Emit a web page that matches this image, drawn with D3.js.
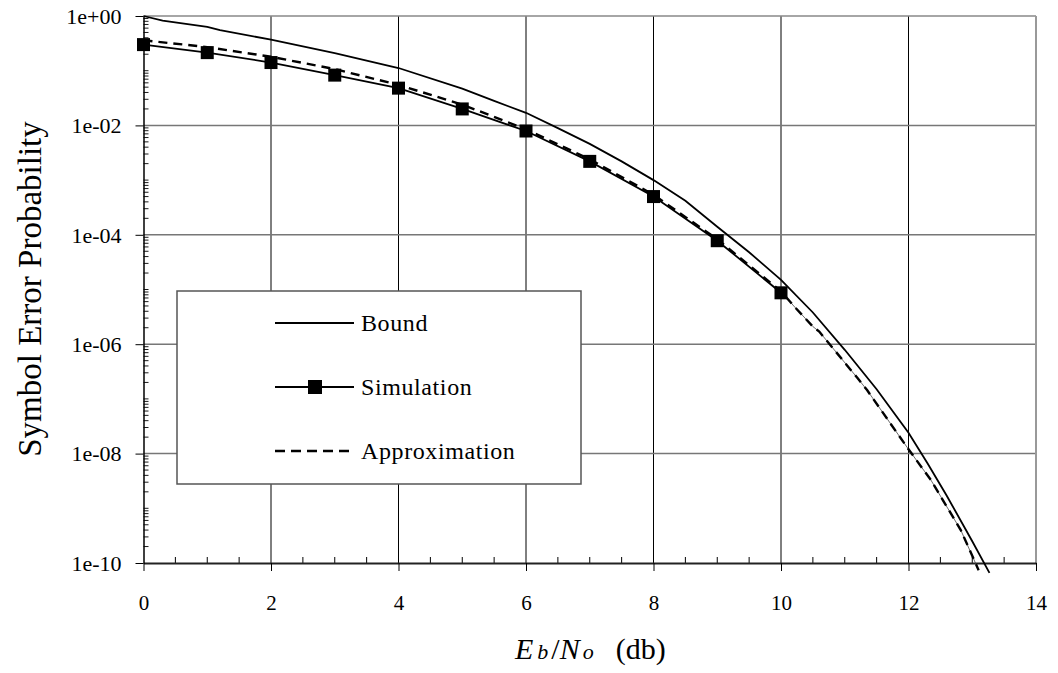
<!DOCTYPE html>
<html>
<head>
<meta charset="utf-8">
<script src="https://cdn.jsdelivr.net/npm/d3@7"></script>
<style>
  body { margin: 0; background: #fff; }
  text { font-family: "Liberation Serif", "Times New Roman", serif; fill: #000; }
</style>
</head>
<body>
<script>

  // Bound (solid line)
  var boundX = [0, 0.3, 1, 1.2, 2, 3, 4, 5, 5.5, 6, 6.5, 7, 7.5, 8, 8.5, 9, 9.5, 10, 10.5, 11, 11.5, 12, 12.3, 12.6, 13, 13.27];
  var boundY = [1.0, 0.82, 0.63, 0.55, 0.37, 0.21, 0.112, 0.047, 0.028, 0.017, 8.9e-3, 4.6e-3, 2.2e-3, 1.0e-3, 4.2e-4, 1.4e-4, 4.8e-5, 1.5e-5, 3.8e-6, 7.9e-7, 1.5e-7, 2.4e-8, 6.6e-9, 1.7e-9, 2.5e-10, 6.6e-11];

  // Simulation (squares)
  var simX = [0, 1, 2, 3, 4, 5, 6, 7, 8, 9, 10];
  var simY = [0.30, 0.214, 0.141, 0.083, 0.048, 0.020, 7.9e-3, 2.2e-3, 5.0e-4, 7.8e-5, 8.7e-6];

  // Approximation (dashed)
  var approxX = [0, 1, 2, 3, 4, 5, 6, 7, 8, 9, 10, 10.2, 10.5, 10.6, 11.2, 11.35, 12, 12.35, 12.82, 13.1];
  var approxY = [0.36, 0.27, 0.18, 0.107, 0.055, 0.024, 8.5e-3, 2.4e-3, 5.4e-4, 8.3e-5, 9.3e-6, 5.0e-6, 2.1e-6, 1.7e-6, 2.4e-7, 1.45e-7, 1.2e-8, 3.3e-9, 4.0e-10, 7.4e-11];

  var xTicks = [0, 2, 4, 6, 8, 10, 12, 14];
  var yTicks = [1, 1e-2, 1e-4, 1e-6, 1e-8, 1e-10];
  var legendNames = ["Bound", "Simulation", "Approximation"];

  var W = 1058, H = 673;
  var pL = 143.5, pR = 1036, pT = 16, pB = 563;

  var svg = d3.select("body").append("svg")
      .attr("width", W)
      .attr("height", H);

  var x = d3.scaleLinear().domain([0, 14]).range([pL, pR]);
  var y = d3.scaleLog().domain([1, 1e-10]).range([pT, pB]);

  var zip = function(xs, ys) {
    return xs.map(function(d, i) { return [d, ys[i]]; });
  };

  // grid
  svg.append("g").selectAll("line")
    .data(xTicks.slice(1, -1))
    .enter().append("line")
      .attr("x1", function(d) { return x(d); })
      .attr("x2", function(d) { return x(d); })
      .attr("y1", pT).attr("y2", pB)
      .attr("stroke", "#000").attr("stroke-width", 1);

  svg.append("g").selectAll("line")
    .data(yTicks.slice(1, -1))
    .enter().append("line")
      .attr("x1", pL).attr("x2", pR)
      .attr("y1", function(d) { return y(d); })
      .attr("y2", function(d) { return y(d); })
      .attr("stroke", "#777").attr("stroke-width", 1.5);

  // frame top / right
  svg.append("line").attr("x1", pL).attr("x2", pR).attr("y1", pT).attr("y2", pT)
    .attr("stroke", "#888").attr("stroke-width", 1.5);
  svg.append("line").attr("x1", pR).attr("x2", pR).attr("y1", pT).attr("y2", pB)
    .attr("stroke", "#999").attr("stroke-width", 2);

  // minor ticks
  var xMinor = d3.range(0.5, 14, 0.5).filter(function(d) { return d % 2 !== 0; });
  svg.append("g").selectAll("line")
    .data(xMinor)
    .enter().append("line")
      .attr("x1", function(d) { return x(d); })
      .attr("x2", function(d) { return x(d); })
      .attr("y1", pB).attr("y2", pB - 6)
      .attr("stroke", "#000");

  var yMinor = [];
  for (var e = 0; e > -10; e--) {
    for (var k = 1; k < 10; k++) {
      if (k === 1 && (e - 1) % 2 === 0) continue;
      yMinor.push(k * Math.pow(10, e - 1));
    }
  }
  svg.append("g").selectAll("line")
    .data(yMinor)
    .enter().append("line")
      .attr("x1", pL).attr("x2", pL + 5)
      .attr("y1", function(d) { return y(d); })
      .attr("y2", function(d) { return y(d); })
      .attr("stroke", "#000").attr("stroke-width", 0.9);

  // axes
  var fmt = function(d) {
    var p = Math.round(Math.log10(d));
    return "1e" + (p < 0 ? "-" : "+") + String(Math.abs(p)).padStart(2, "0");
  };

  var gx = svg.append("g")
    .attr("transform", "translate(0," + pB + ")")
    .call(d3.axisBottom(x).tickValues(xTicks).tickSize(8).tickSizeOuter(0).tickFormat(d3.format("d")));
  gx.select(".domain").attr("stroke", "#222").attr("stroke-width", 2);
  gx.selectAll(".tick line").attr("stroke", "#000");
  gx.selectAll(".tick text")
    .attr("y", 47).attr("dy", 0)
    .style("font-family", "Liberation Serif").style("font-size", "21px");

  var gy = svg.append("g")
    .attr("transform", "translate(" + pL + ",0)")
    .call(d3.axisLeft(y).tickValues(yTicks).tickSize(8).tickSizeOuter(0).tickFormat(fmt));
  gy.select(".domain").attr("stroke", "#000").attr("stroke-width", 1.5);
  gy.selectAll(".tick line").attr("stroke", "#000");
  gy.selectAll(".tick text")
    .attr("x", -22).attr("dy", "0.33em")
    .style("font-family", "Liberation Serif").style("font-size", "22px");

  // lines
  var line = d3.line()
    .x(function(d) { return x(d[0]); })
    .y(function(d) { return y(d[1]); });

  var approxData = zip(approxX, approxY);

  svg.append("path")
    .datum(approxData.filter(function(d) { return d[0] >= 10; }))
    .attr("d", line)
    .attr("fill", "none").attr("stroke", "#444").attr("stroke-width", 0.8);

  svg.append("path")
    .datum(approxData)
    .attr("d", line)
    .attr("fill", "none").attr("stroke", "#000").attr("stroke-width", 2.4)
    .attr("stroke-dasharray", "9,6");

  svg.append("path")
    .datum(zip(boundX, boundY))
    .attr("d", line)
    .attr("fill", "none").attr("stroke", "#000").attr("stroke-width", 1.8);

  var simData = zip(simX, simY);
  svg.append("path")
    .datum(simData)
    .attr("d", line)
    .attr("fill", "none").attr("stroke", "#000").attr("stroke-width", 1.8);

  var sq = 13;
  svg.append("g").selectAll("rect")
    .data(simData)
    .enter().append("rect")
      .attr("x", function(d) { return x(d[0]) - sq / 2; })
      .attr("y", function(d) { return y(d[1]) - sq / 2; })
      .attr("width", sq).attr("height", sq)
      .attr("fill", "#000");

  // legend
  var lg = svg.append("g");
  lg.append("rect")
    .attr("x", 177).attr("y", 291).attr("width", 404).attr("height", 193)
    .attr("fill", "#fff").attr("stroke", "#555").attr("stroke-width", 1.5);

  var rows = lg.selectAll("g.row")
    .data(legendNames)
    .enter().append("g")
      .attr("class", "row")
      .attr("transform", function(d, i) { return "translate(0," + (323 + i * 64) + ")"; });

  rows.append("line")
    .attr("x1", 275).attr("x2", 354).attr("y1", 0).attr("y2", 0)
    .attr("stroke", "#000")
    .attr("stroke-width", function(d, i) { return i === 2 ? 2.6 : 1.8; })
    .attr("stroke-dasharray", function(d, i) { return i === 2 ? "10,6" : null; });

  rows.filter(function(d, i) { return i === 1; })
    .append("rect")
      .attr("x", 315 - 7).attr("y", -7).attr("width", 14).attr("height", 14)
      .attr("fill", "#000");

  rows.append("text")
    .attr("x", 361).attr("y", 8)
    .style("font-size", "24px")
    .style("letter-spacing", "0.6px")
    .text(function(d) { return d; });

  // axis titles
  svg.append("text")
    .attr("transform", "translate(41,289) rotate(-90)")
    .attr("text-anchor", "middle")
    .style("font-size", "33px")
    .text("Symbol Error Probability");

  var xt = svg.append("text")
    .attr("x", 515).attr("y", 659)
    .style("font-size", "30px");
  xt.append("tspan").style("font-style", "italic").text("E");
  xt.append("tspan").attr("dx", 4).style("font-style", "italic").style("font-size", "22px").text("b");
  xt.append("tspan").attr("dx", 3).text("/");
  xt.append("tspan").style("font-style", "italic").text("N");
  xt.append("tspan").attr("dx", 3).style("font-style", "italic").style("font-size", "22px").text("o");
  xt.append("tspan").attr("dx", 22).text("(db)");

</script>
</body>
</html>
